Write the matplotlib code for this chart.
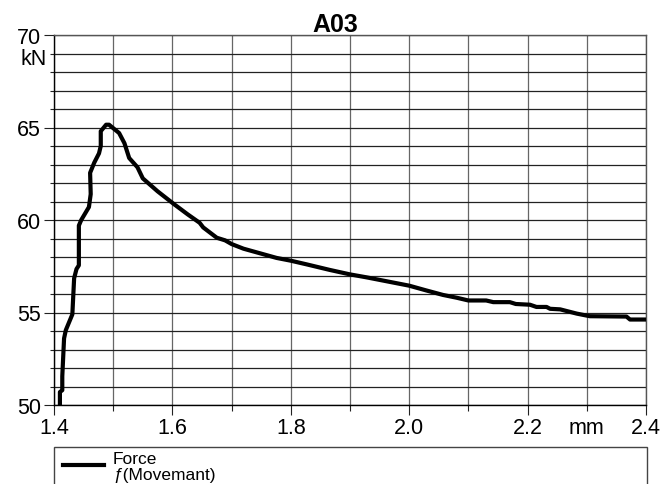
import matplotlib
matplotlib.use("Agg")
import matplotlib.pyplot as plt
from matplotlib.patches import Rectangle
from matplotlib.lines import Line2D
from matplotlib.ticker import MultipleLocator, FuncFormatter

plt.rcParams['font.family'] = ['Liberation Sans', 'DejaVu Sans']

# Kraft-Weg-Kurve
movement = [1.410, 1.410, 1.414, 1.414, 1.417, 1.420, 1.431, 1.434, 1.438, 1.442,
            1.442, 1.446, 1.459, 1.462, 1.461, 1.468, 1.476, 1.479, 1.479, 1.488,
            1.493, 1.510, 1.519, 1.527, 1.541, 1.550, 1.575, 1.603, 1.626, 1.646,
            1.652, 1.675, 1.689, 1.700, 1.720, 1.748, 1.776, 1.800, 1.827, 1.866,
            1.900, 1.928, 1.968, 2.000, 2.028, 2.057, 2.080, 2.100, 2.130, 2.142,
            2.170, 2.180, 2.204, 2.215, 2.232, 2.238, 2.255, 2.283, 2.305, 2.367,
            2.373, 2.400]
force = [50.0, 50.7, 50.8, 51.55, 53.6, 54.05, 54.9, 56.85, 57.35, 57.55,
         59.7, 60.0, 60.7, 61.4, 62.55, 63.1, 63.6, 64.0, 64.8, 65.15,
         65.15, 64.7, 64.15, 63.35, 62.85, 62.25, 61.55, 60.85, 60.3, 59.85,
         59.6, 59.04, 58.9, 58.7, 58.45, 58.2, 57.95, 57.8, 57.6, 57.3,
         57.06, 56.9, 56.65, 56.45, 56.2, 55.95, 55.8, 55.65, 55.65, 55.56,
         55.56, 55.46, 55.42, 55.3, 55.3, 55.2, 55.17, 54.94, 54.8, 54.78,
         54.62, 54.62]

x_ticks = [1.4, 1.6, 1.8, 2.0, 2.2, 2.4]
x_labels = ['1.4', '1.6', '1.8', '2.0', '2.2', '2.4']
y_ticks = [50, 55, 60, 65, 70]
title = 'A03'
x_unit = 'mm'
x_unit_pos = 2.3
y_unit = 'kN'
legend_lines = ['Force', '\u0192(Movemant)']

W, H = 665, 485
fig = plt.figure(figsize=(W / 100, H / 100), dpi=100)
ax = fig.add_axes([54 / W, 1 - 406 / H, 592 / W, 370 / H])

ax.plot(movement, force, color='black', lw=3, solid_joinstyle='round', zorder=3)

ax.set_xlim(1.4, 2.4)
ax.set_ylim(50, 70)
ax.set_xticks(x_ticks)
ax.set_xticklabels(x_labels)
ax.xaxis.set_minor_locator(MultipleLocator(0.1))
# Einheit "mm" als Beschriftung des Nebenstrichs bei 2.3
ax.xaxis.set_minor_formatter(FuncFormatter(
    lambda v, p: x_unit if abs(v - x_unit_pos) < 1e-6 else ''))
ax.set_yticks(y_ticks)
ax.yaxis.set_minor_locator(MultipleLocator(1))

ax.tick_params(axis='both', which='both', labelsize=15.5, width=0.8, color='#222222')
ax.tick_params(axis='x', which='major', length=7, pad=2)
ax.tick_params(axis='x', which='minor', length=4, pad=5)
ax.tick_params(axis='y', which='major', length=7.5, pad=2)
ax.tick_params(axis='y', which='minor', length=3)

ax.grid(True, which='both', axis='y', color='#222222', lw=0.9)
ax.grid(True, which='both', axis='x', color='#666666', lw=0.9)
ax.set_axisbelow(True)

for s in ['left', 'bottom']:
    ax.spines[s].set_color('black')
    ax.spines[s].set_linewidth(1)
for s in ['top', 'right']:
    ax.spines[s].set_color('#555555')
    ax.spines[s].set_linewidth(1)

ax.text(-0.012, 68.75, y_unit, transform=ax.get_yaxis_transform(),
        ha='right', va='center', fontsize=15.5)

fig.text(335 / W, 1 - 31.7 / H, title, ha='center', va='baseline',
         fontsize=18, fontweight='bold')

# Legende unten
fig.patches.append(Rectangle((54 / W, -0.1), 593 / W, 0.1 + 1 - 448 / H,
                             transform=fig.transFigure, facecolor='white',
                             edgecolor='#444444', lw=1))
fig.lines.append(Line2D([63 / W, 104 / W], [1 - 466 / H, 1 - 466 / H],
                        transform=fig.transFigure, color='black', lw=3))
fig.text(113 / W, 1 - 464 / H, legend_lines[0], ha='left', va='baseline', fontsize=12.5)
fig.text(113 / W, 1 - 480 / H, legend_lines[1], ha='left', va='baseline', fontsize=12.5)

fig.savefig('out.png', dpi=100)
